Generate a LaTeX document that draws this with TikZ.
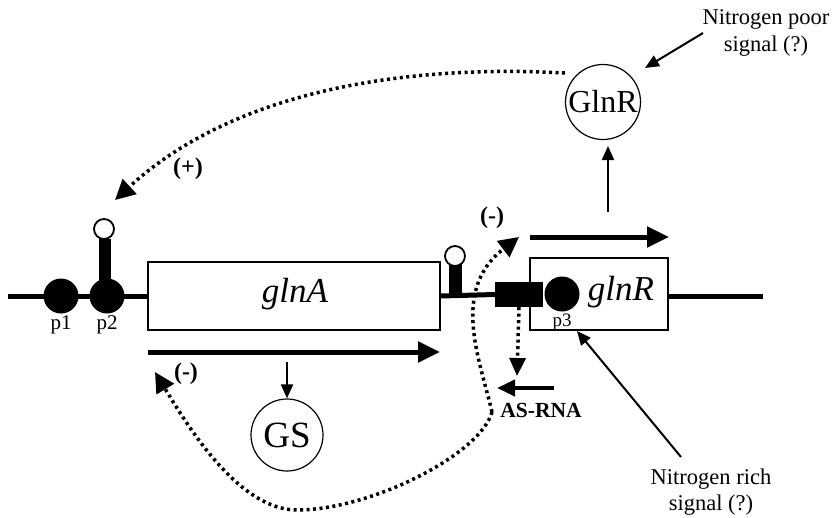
\documentclass[tikz,border=0pt]{standalone}
\usepackage{fontspec}
\setmainfont{Liberation Serif}
\usetikzlibrary{arrows.meta}

\begin{document}
\begin{tikzpicture}[x=1pt,y=-1pt,
  dna/.style={line width=5pt},
  genebox/.style={draw, line width=1.3pt, fill=white, inner sep=0pt},
  prom/.style={circle, fill=black, minimum size=35pt, inner sep=0pt},
  hairloop/.style={circle, draw, line width=1.8pt, fill=white, minimum size=20pt, inner sep=0pt},
  stem/.style={rectangle, fill=black, inner sep=0pt},
  transcript/.style={line width=5pt, -{Triangle[length=22pt,width=20pt]}},
  thinarrow/.style={line width=2pt, -{Triangle[length=14pt,width=12pt]}},
  regul/.style={line width=3.5pt, dash pattern=on 3pt off 3.5pt, -{Triangle[length=20pt,width=20pt]}},
  protein/.style={circle, draw, line width=1.2pt, fill=white, inner sep=0pt},
  genename/.style={font=\fontsize{35}{35}\selectfont\itshape},
  lbl/.style={font=\fontsize{21}{21}\selectfont},
  sign/.style={font=\fontsize{24}{24}\selectfont\bfseries},
  note/.style={font=\fontsize{22.5}{26.5}\selectfont, align=center}
]
\useasboundingbox (0,0) rectangle (840,517);

% DNA ends
\coordinate (dnaL) at (8,296);
\coordinate (dnaR) at (763,296);

% genes
\node[genebox, minimum width=292pt, minimum height=68pt] (glnA) at (294,296) {};
\node[genebox, minimum width=138pt, minimum height=72pt] (glnR) at (599,294) {};
\node[stem, minimum width=48pt, minimum height=25pt] (asbox) at (519,294.5) {};

% DNA strand
\draw[dna] (dnaL) -- (glnA.west |- dnaL);
\draw[dna] (glnA.east |- dnaL) -- (asbox.west);
\draw[dna] (glnR.east |- dnaR) -- (dnaR);
\node[stem, minimum width=48pt, minimum height=25pt] at (asbox) {};

\node[genename] at (295,294) {glnA};
\node[genename] at (621,292) {glnR};

% promoters
\node[prom] (p1) at (61,296) {};
\node[stem, minimum width=12pt, minimum height=50pt] (p2stem) at (105,264) {};
\node[prom] (p2) at (107,296) {};
\node[hairloop] (p2loop) at (104,229) {};
\node[prom] (p3) at (562,294) {};
\node[lbl] at (61,325) {p1};
\node[lbl] at (107,325) {p2};
\node[lbl, font=\fontsize{19}{19}\selectfont] at (562,322) {p3};

% terminator hairpin
\node[stem, minimum width=13pt, minimum height=33pt] (term) at (455,280) {};
\node[hairloop] (termloop) at (455,256) {};

% transcripts
\coordinate (txAs) at (148,352);
\coordinate (txAe) at (440,352);
\coordinate (txRs) at (530,237);
\coordinate (txRe) at (669,237);
\draw[transcript] (txAs) -- (txAe);
\draw[transcript] (txRs) -- (txRe);

% antisense RNA
\coordinate (asS) at (554,388);
\coordinate (asE) at (497,388);
\draw[line width=4pt, -{Triangle[length=18pt,width=16pt]}] (asS) -- (asE);
\node[font=\fontsize{21.5}{21.5}\selectfont\bfseries] (asrna) at (541,410) {AS-RNA};
\coordinate (asDown) at (517,376);
\draw[regul, -{Triangle[length=18pt,width=16pt]}] (asbox.south) -- (asDown);

% proteins
\node[protein, minimum size=75pt, font=\fontsize{32}{32}\selectfont] (GlnR) at (603,102) {GlnR};
\node[protein, minimum size=72pt, font=\fontsize{37}{37}\selectfont] (GS) at (287,435) {GS};

\coordinate (upS) at (608,212);
\coordinate (upE) at (608,146);
\draw[thinarrow] (upS) -- (upE);
\coordinate (gsS) at (287,362);
\draw[thinarrow] (gsS) -- (GS.north);

% nitrogen signals
\node[note] (poor) at (766,33) {Nitrogen poor\\signal (?)};
\node[note] (rich) at (711,492) {Nitrogen rich\\signal (?)};
\coordinate (poorS) at (703,33);
\coordinate (poorE) at (645,68);
\draw[thinarrow] (poorS) -- (poorE);
\coordinate (richS) at (681,457);
\coordinate (richE) at (577,331);
\draw[thinarrow] (richS) -- (richE);

% regulatory loops
\coordinate (plusS) at (565,73);
\coordinate (plusE) at (115,200);
\draw[regul] (plusS) .. controls (420,65) and (240,85) .. (plusE);
\node[sign] at (188,169) {(+)};

\coordinate (asJoin) at (492,412);
\coordinate (minR) at (519,237);
\coordinate (minA) at (155,372);
\draw[regul] (asJoin) .. controls (480,360) and (450,290) .. (minR);
\draw[regul] (asJoin) .. controls (480,455) and (370,510) .. (297,510)
  .. controls (240,510) and (190,430) .. (minA);
\node[sign] at (492,218) {(-)};
\node[sign] at (186,374) {(-)};
\end{tikzpicture}
\end{document}
